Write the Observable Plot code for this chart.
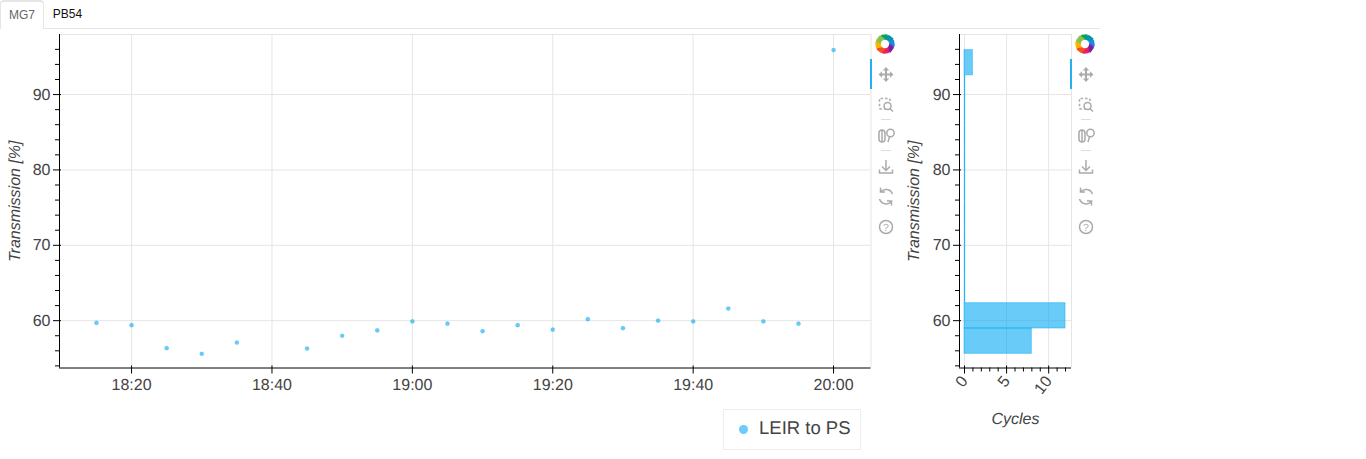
<!DOCTYPE html>
<html><head><meta charset="utf-8">
<script src="https://cdn.jsdelivr.net/npm/d3@7"></script>
<script src="https://cdn.jsdelivr.net/npm/@observablehq/plot@0.6"></script>
<style>
html,body{margin:0;padding:0;background:#fff;width:1366px;height:459px;overflow:hidden;font-family:"Liberation Sans",Arial,sans-serif}
#tabs{position:absolute;left:0;top:0;width:1100px;height:28px;border-bottom:1px solid #e5e5e5;font-size:12px}
.tab{position:absolute;top:0;height:28px;line-height:29px;text-align:center}
#t1{left:0;width:44px;box-sizing:border-box;height:29px;color:#666;background:#fff;border:1px solid #e5e5e5;border-top:2px solid #e5e5e5;border-bottom:0;border-radius:4px 4px 0 0;line-height:26px}
#t2{left:44px;width:47px;color:#111}
.plotbox{position:absolute;top:0;color:#000;opacity:.999}
svg text{font-family:"Liberation Sans",Arial,sans-serif;text-rendering:geometricPrecision}
[aria-label="y-axis label"],[aria-label="x-axis label"]{font-style:italic;font-size:16px}
#legend{position:absolute;left:723px;top:409px;width:136px;height:39px;border:1px solid #eee;background:#fff;color:#444;font-size:18.5px;line-height:38px;opacity:.999;text-rendering:geometricPrecision}
#legend i{position:absolute;left:15px;top:15px;width:9px;height:9px;border-radius:50%;background:#6bcbfb}
#legend span{position:absolute;left:35px;top:-1px;white-space:nowrap}
.tb{position:absolute;top:34px;width:30px;height:210px}
.bar{position:absolute;left:0;top:25px;width:2px;height:30px;background:#26b0ee}
.tb svg{position:absolute;left:0;top:0}
</style></head><body>
<div id="tabs"><div class="tab" id="t1">MG7</div><div class="tab" id="t2">PB54</div></div>
<div class="plotbox" id="main" style="left:0"></div>
<div class="plotbox" id="hist" style="left:900px"></div>
<div class="tb" id="tb1" style="left:870px"></div>
<div class="tb" id="tb2" style="left:1070px"></div>
<div id="legend"><i></i><span>LEIR to PS</span></div>
<script>
const times = ["18:15","18:20","18:25","18:30","18:35","18:45","18:50","18:55","19:00","19:05","19:10","19:15","19:20","19:25","19:30","19:35","19:40","19:45","19:50","19:55","20:00"];
const transmission = [59.7,59.4,56.35,55.6,57.1,56.3,58.0,58.7,59.9,59.6,58.6,59.4,58.8,60.2,59.0,60.0,59.9,61.6,59.9,59.6,95.9];
const binEdges = [55.6,58.96,62.32,65.68,69.04,72.4,75.76,79.12,82.48,85.84,89.2,92.55,95.9];
const binCounts = [8,12,0,0,0,0,0,0,0,0,0,1];
const xTickLabels = ["18:20","18:40","19:00","19:20","19:40","20:00"];
const yTicks = [60,70,80,90];
const yMinor = [54,56,58,62,64,66,68,72,74,76,78,82,84,86,88,92,94,96];
const cycleTicks = [0,5,10];
const cycleMinor = [1,2,3,4,6,7,8,9,11,12];
const seriesName = "LEIR to PS";
const yDomain = [53.72,97.97];
const xDomain = ["18:09:44","20:05:20"];
const cycleDomain = [-0.594,12.71];

const blue = "#03a9f4", ink = "#444", grid = "#e5e5e5";
const T = s => new Date(`2024-01-01T${s.length===5?s+":00":s}Z`);
const H = 430, mTop = 34, mBot = 62.5;

const data = times.map((t,i)=>({t:T(t),v:transmission[i],name:seriesName}));
const main = Plot.plot({
  width:880,height:H,marginLeft:59,marginRight:9.5,marginTop:mTop,marginBottom:mBot,
  style:{background:"transparent",overflow:"visible"},
  x:{type:"utc",domain:xDomain.map(T)},
  y:{domain:yDomain},
  marks:[
    Plot.gridX(xTickLabels.map(T),{stroke:grid,strokeOpacity:1}),
    Plot.gridY(yTicks,{stroke:grid,strokeOpacity:1}),
    Plot.ruleX([xDomain[1]].map(T),{stroke:grid}),
    Plot.ruleY([yDomain[1]],{stroke:grid}),
    Plot.axisY(yMinor,{tickSize:4,text:null,strokeOpacity:1,label:null}),
    Plot.axisY(yTicks,{tickSize:8,dx:2,tickPadding:3,fill:ink,strokeOpacity:1,fontSize:16,
      label:"Transmission [%]",labelAnchor:"center",labelArrow:"none",labelOffset:51}),
    Plot.axisX(xTickLabels.map(T),{tickSize:8,dy:-2,tickPadding:5,fill:ink,strokeOpacity:1,fontSize:16,
      tickFormat:d3.utcFormat("%H:%M"),label:null}),
    Plot.ruleX([xDomain[0]].map(T),{stroke:"#000"}),
    Plot.ruleY([yDomain[0]],{stroke:"#000"}),
    Plot.dot(data,{x:"t",y:"v",r:2.1,fill:blue,fillOpacity:.6,stroke:blue,strokeOpacity:.15,strokeWidth:1})
  ]
});
document.getElementById("main").append(main);

const bins = binCounts.map((c,i)=>({c,lo:binEdges[i],hi:binEdges[i+1]}));
const hist = Plot.plot({
  width:180,height:H,marginLeft:59,marginRight:9,marginTop:mTop,marginBottom:mBot,
  style:{background:"transparent",overflow:"visible"},
  x:{domain:cycleDomain},
  y:{domain:yDomain},
  marks:[
    Plot.gridX(cycleTicks,{stroke:grid,strokeOpacity:1}),
    Plot.gridY(yTicks,{stroke:grid,strokeOpacity:1}),
    Plot.ruleX([cycleDomain[1]],{stroke:grid}),
    Plot.ruleY([yDomain[1]],{stroke:grid}),
    Plot.axisY(yMinor,{tickSize:4,text:null,strokeOpacity:1,label:null}),
    Plot.axisY(yTicks,{tickSize:8,dx:2,tickPadding:3,fill:ink,strokeOpacity:1,fontSize:16,
      label:"Transmission [%]",labelAnchor:"center",labelArrow:"none",labelOffset:52}),
    Plot.axisX(cycleMinor,{tickSize:4,text:null,strokeOpacity:1,label:null}),
    Plot.axisX(cycleTicks,{tickSize:8,dy:-2,tickPadding:4,tickRotate:-52,fill:ink,strokeOpacity:1,fontSize:16,
      label:"Cycles",labelAnchor:"center",labelArrow:"none",labelOffset:56}),
    Plot.ruleX([cycleDomain[0]],{stroke:"#000"}),
    Plot.ruleY([yDomain[0]],{stroke:"#000"}),
    Plot.rectX(bins.filter(b=>b.c>0),{x1:0,x2:"c",y1:"lo",y2:"hi",fill:blue,fillOpacity:.6,stroke:blue,strokeOpacity:.45,strokeWidth:1}),
    Plot.ruleX(bins.filter(b=>b.c===0),{x:"c",y1:"lo",y2:"hi",stroke:"#29b3f2",strokeWidth:1.3})
  ]
});
document.getElementById("hist").append(hist);

// Toolbar icons (chrome, not data)
function toolbar(el){
  const seg=["#0aa35a","#0097a7","#1e88e5","#7b1fa2","#e91e63","#f4511e","#ffb300","#8bc34a"];
  let logo="";
  seg.forEach((c,i)=>{logo+=`<rect transform="translate(15,10) rotate(${i*45-8})" x="-3" y="-9.5" width="7" height="6.5" rx="1.2" fill="${c}" stroke="none"/>`;});
  logo+=`<circle cx="15" cy="10" r="4.2" fill="#fff" stroke="none"/>`;
  const g="#ababab";
  el.innerHTML=`<div class="bar"></div><svg width="30" height="210" fill="none" stroke="${g}" stroke-width="1.5">
  ${logo}
  <g stroke-width="2"><path d="M16 35V46M10 40.500H22"/><path fill="${g}" stroke="none" d="M16 33l3.200 3.500h-6.400zM16 48l3.200-3.500h-6.400zM8.500 40.500l3.500-3.200v6.400zM23.500 40.500l-3.500-3.200v6.400z"/></g>
  <rect x="9.500" y="64.500" width="10.500" height="10.500" rx="1" stroke-dasharray="2.500 2"/><circle cx="17.500" cy="72" r="3.500" fill="#fff"/><path d="M20 74.500l3 3"/>
  <path d="M11 85.500h10M11 116.500h10" stroke="#ddd" stroke-width="1"/>
  <rect x="9" y="96" width="6" height="12" rx="3"/><path d="M12 96v12"/><circle cx="20.500" cy="99" r="3.700"/><path d="M19.500 103l-1.500 5"/>
  <path d="M16 126v10M12 132.500l4 4 4-4M9.500 135.500v3.500h13v-3.500"/>
  <path d="M22.500 160a7 7 0 0 0-12-2M9.500 165a7 7 0 0 0 12 2.500M10.500 153.500v4.500h4.500M21.500 171.500v-4.500H17"/>
  <circle cx="16" cy="193" r="6.500"/><text x="16" y="196.700" text-anchor="middle" font-size="10.500" fill="${g}" stroke="none">?</text>
  </svg>`;
}
toolbar(document.getElementById("tb1"));
toolbar(document.getElementById("tb2"));
</script>
</body></html>
